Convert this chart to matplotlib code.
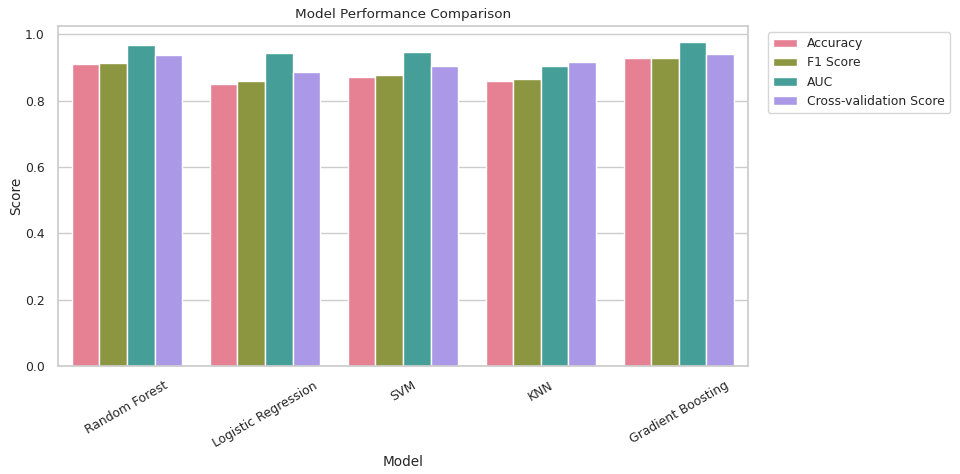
import pandas as pd
import matplotlib
matplotlib.use("Agg")
import matplotlib.pyplot as plt
import seaborn as sns

models = ["Random Forest", "Logistic Regression", "SVM", "KNN", "Gradient Boosting"]
metrics = ["Accuracy", "F1 Score", "AUC", "Cross-validation Score"]
accuracy = [0.909, 0.851, 0.870, 0.858, 0.929]
f1_score = [0.912, 0.860, 0.878, 0.866, 0.929]
auc = [0.967, 0.945, 0.946, 0.904, 0.976]
cv_score = [0.939, 0.885, 0.904, 0.917, 0.942]

df = pd.DataFrame({"Model": models, "Accuracy": accuracy, "F1 Score": f1_score,
                   "AUC": auc, "Cross-validation Score": cv_score})
long_df = df.melt(id_vars="Model", var_name="Metric", value_name="Score")

sns.set_theme(style="whitegrid")
fig = plt.figure(figsize=(9.6, 4.74), dpi=100)
ax = fig.add_axes([0.0604, 0.228, 0.7186, 0.717])
sns.barplot(data=long_df, x="Model", y="Score", hue="Metric", hue_order=metrics,
            palette="husl", saturation=0.75, ax=ax)
ax.set_title("Model Performance Comparison", fontsize=9.7)
ax.set_xlabel("Model", fontsize=9.8)
ax.set_ylabel("Score", fontsize=9.8)
ax.yaxis.labelpad = 1.5
ax.tick_params(labelsize=8.9)
plt.setp(ax.get_xticklabels(), rotation=30)
ax.legend(bbox_to_anchor=(1.02, 1), loc="upper left", fontsize=8.9)
fig.savefig("out.png", dpi=100)
